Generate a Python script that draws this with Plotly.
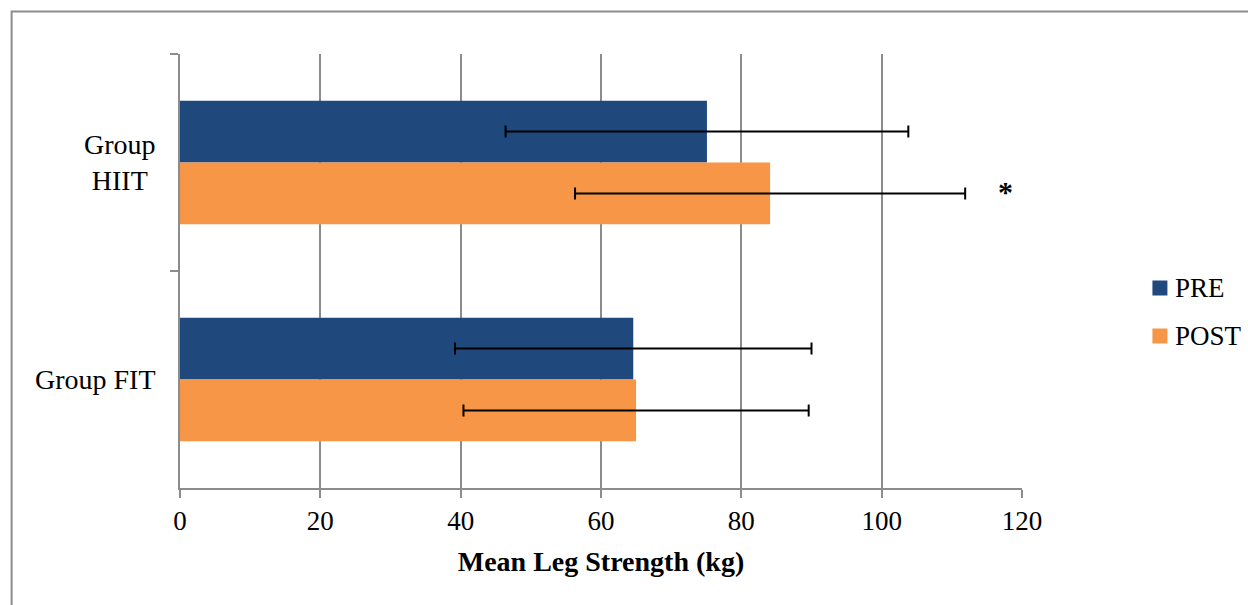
import plotly.graph_objects as go

# Mean leg strength (kg) before and after training, with SD error bars
groups = ["Group HIIT", "Group FIT"]
group_labels = ["Group<br>HIIT", "Group FIT"]
pre_mean = [75.1, 64.6]
pre_sd = [28.7, 25.4]
post_mean = [84.1, 65.0]
post_sd = [27.8, 24.6]
series_names = ["PRE", "POST"]
series_colors = ["#1F497D", "#F79646"]
x_ticks = [0, 20, 40, 60, 80, 100, 120]
sig_marker_x = 117.7  # position of the significance asterisk

FONT = "Liberation Serif"
GRAY = "#8c8c8c"

# plot-area geometry in pixels
W, H = 1248, 605
L, R, T, B = 180, 225.5, 54, 117
PW, PH = W - L - R, H - T - B


def px_x(px):
    return (px - L) / PW


def px_y(py):
    return (H - B - py) / PH


fig = go.Figure()
for name, color, mean, sd in zip(series_names, series_colors,
                                 [pre_mean, post_mean], [pre_sd, post_sd]):
    fig.add_trace(go.Bar(
        y=groups, x=mean, name=name, orientation="h",
        marker=dict(color=color, line=dict(width=0)),
        error_x=dict(type="data", array=sd, visible=True,
                     color="black", thickness=2, width=6),
        showlegend=False,
    ))

# category labels placed on the category axis
for g, lab in zip(groups, group_labels):
    fig.add_annotation(
        x=0, xref="paper", y=g, yref="y", text=lab, showarrow=False,
        xanchor="right", yanchor="middle", align="center", xshift=-22,
        font=dict(family=FONT, size=28, color="black"),
    )

# significance marker for the HIIT post-training value
fig.add_annotation(
    x=sig_marker_x, y=groups[0], xref="x", yref="y", text="<b>*</b>",
    showarrow=False, yshift=-29,
    font=dict(family=FONT, size=30, color="black"),
)

# legend: colour keys with series names
legend_rows = [288, 336]
for name, color, cy in zip(series_names, series_colors, legend_rows):
    fig.add_shape(
        type="rect", xref="paper", yref="paper",
        x0=px_x(1153), x1=px_x(1168), y0=px_y(cy + 7.5), y1=px_y(cy - 7.5),
        fillcolor=color, line=dict(width=0),
    )
    fig.add_annotation(
        x=px_x(1174), y=px_y(cy), xref="paper", yref="paper", text=name,
        showarrow=False, xanchor="left", yanchor="middle",
        font=dict(family=FONT, size=27, color="black"),
    )

# outer chart frame
fig.add_shape(
    type="rect", xref="paper", yref="paper",
    x0=px_x(11.5), x1=2, y0=-1, y1=px_y(11.5),
    line=dict(color=GRAY, width=2), layer="below",
)

fig.update_layout(
    width=W, height=H,
    margin=dict(l=L, r=R, t=T, b=B, pad=0),
    paper_bgcolor="white", plot_bgcolor="white",
    barmode="group", bargap=0.43, bargroupgap=0,
    font=dict(family=FONT, size=27, color="black"),
    showlegend=False,
    xaxis=dict(
        range=[0, 120], tickvals=x_ticks, ticktext=[str(v) for v in x_ticks],
        showgrid=True, gridcolor=GRAY, gridwidth=1.5,
        showline=True, linecolor=GRAY, linewidth=1.5,
        ticks="outside", ticklen=8, tickcolor=GRAY, tickwidth=1.5,
        zeroline=False,
        tickfont=dict(family=FONT, size=27, color="black"),
        title=dict(text="<b>Mean Leg Strength (kg)</b>",
                   font=dict(family=FONT, size=28, color="black"),
                   standoff=16),
    ),
    yaxis=dict(
        categoryorder="array", categoryarray=groups, autorange="reversed",
        showticklabels=False, showgrid=False,
        showline=True, linecolor=GRAY, linewidth=1.5,
        ticks="outside", ticklen=8, tickcolor=GRAY, tickwidth=1.5,
        tickson="boundaries", zeroline=False,
    ),
)

fig.write_html("out.html")
